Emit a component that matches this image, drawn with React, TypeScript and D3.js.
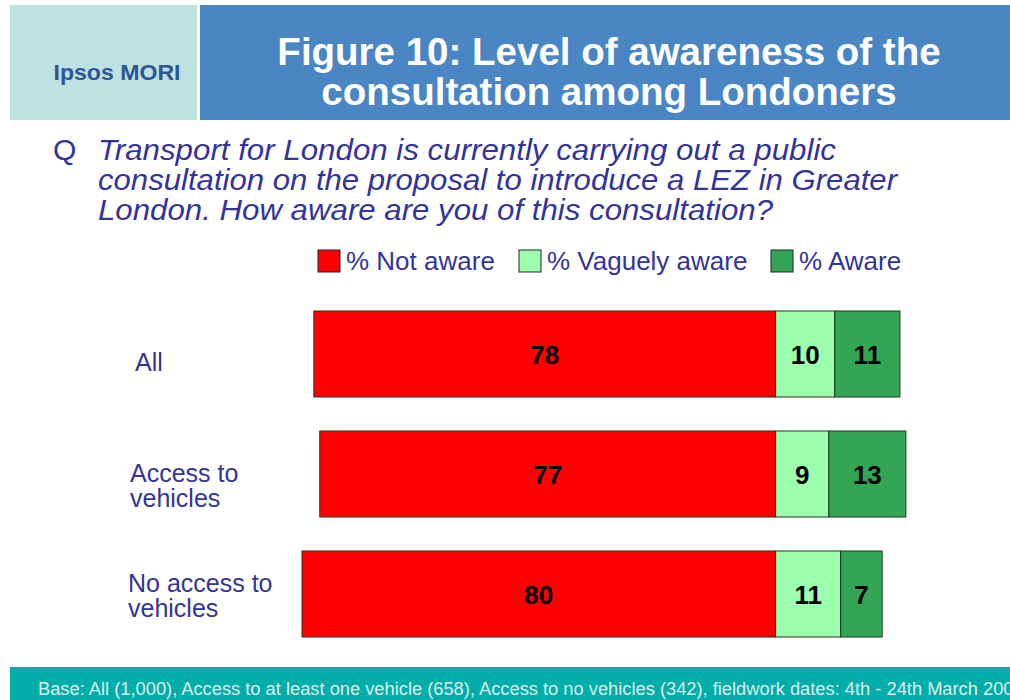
import React, { useEffect, useRef } from "react";
import * as d3 from "d3";

// data
const categories = ["All", "Access to vehicles", "No access to vehicles"];
const categoryLines = [["All"], ["Access to", "vehicles"], ["No access to", "vehicles"]];
const notAware = [78, 77, 80];
const vaguelyAware = [10, 9, 11];
const aware = [11, 13, 7];
const seriesNames = ["% Not aware", "% Vaguely aware", "% Aware"];
const seriesColors = ["#FF0000", "#9CFFAE", "#33A655"];

const W = 1010;
const H = 700;
const textBlue = "#333399";
const font = "Liberation Sans, Arial, sans-serif";

function App() {
  const svgRef = useRef<SVGSVGElement>(null);

  useEffect(() => {
    const svg = d3.select(svgRef.current);
    svg.selectAll("*").remove();

    // header
    svg.append("rect").attr("x", 10).attr("y", 5).attr("width", 187).attr("height", 115).attr("fill", "#BEE1E1");
    svg.append("rect").attr("x", 200).attr("y", 5).attr("width", 810).attr("height", 115).attr("fill", "#4A85C4");
    svg.append("text")
      .attr("x", 117).attr("y", 80)
      .attr("text-anchor", "middle")
      .attr("font-family", font)
      .attr("font-weight", "bold")
      .attr("font-size", 22)
      .attr("fill", "#2E5597")
      .attr("textLength", 127)
      .attr("lengthAdjust", "spacingAndGlyphs")
      .text("Ipsos MORI");
    const title = ["Figure 10: Level of awareness of the", "consultation among Londoners"];
    svg.append("g").selectAll("text").data(title).join("text")
      .attr("x", 609)
      .attr("y", (d, i) => 65 + i * 40)
      .attr("text-anchor", "middle")
      .attr("font-family", font)
      .attr("font-weight", "bold")
      .attr("font-size", 38.5)
      .attr("fill", "#fff")
      .text(d => d);

    // question
    const q = [
      "Transport for London is currently carrying out a public",
      "consultation on the proposal to introduce a LEZ in Greater",
      "London. How aware are you of this consultation?",
    ];
    const qg = svg.append("g")
      .attr("font-family", font)
      .attr("font-size", 30)
      .attr("fill", textBlue);
    qg.append("text").attr("x", 53).attr("y", 160).text("Q");
    qg.selectAll("text.ql").data(q).join("text")
      .attr("class", "ql")
      .attr("x", 98)
      .attr("y", (d, i) => 160 + i * 30)
      .attr("font-style", "italic")
      .attr("textLength", (d, i) => [738, 799, 675][i])
      .attr("lengthAdjust", "spacingAndGlyphs")
      .text(d => d);

    // legend
    const legendX = [318, 519, 771];
    const lg = svg.append("g").selectAll("g").data(seriesNames).join("g")
      .attr("transform", (d, i) => `translate(${legendX[i]},250)`);
    lg.append("rect").attr("width", 22).attr("height", 22)
      .attr("fill", (d, i) => seriesColors[i]).attr("stroke", "#222").attr("stroke-width", 1);
    lg.append("text").attr("x", 28).attr("y", 20)
      .attr("font-family", font)
      .attr("font-size", 26)
      .attr("fill", textBlue)
      .text(d => d);

    // scales
    const x = d3.scaleLinear().domain([-80, 25]).range([302, 302 + 105 * 5.92]);
    const y = d3.scalePoint<string>().domain(categories).range([354, 594]);
    const barH = 86;

    const rows = categories.map((c, i) => {
      const n = notAware[i], v = vaguelyAware[i], a = aware[i];
      return [
        { cat: c, s: 0, x0: -n, x1: 0, val: n },
        { cat: c, s: 1, x0: 0, x1: v, val: v },
        { cat: c, s: 2, x0: v, x1: v + a, val: a },
      ];
    }).flat();

    const bars = svg.append("g");
    bars.selectAll("rect").data(rows).join("rect")
      .attr("x", d => x(d.x0))
      .attr("y", d => (y(d.cat) as number) - barH / 2)
      .attr("width", d => x(d.x1) - x(d.x0))
      .attr("height", barH)
      .attr("fill", d => seriesColors[d.s])
      .attr("stroke", "#1f3a1f")
      .attr("stroke-width", 1);
    bars.selectAll("text").data(rows).join("text")
      .attr("x", d => (x(d.x0) + x(d.x1)) / 2)
      .attr("y", d => (y(d.cat) as number) + 10)
      .attr("text-anchor", "middle")
      .attr("font-family", font)
      .attr("font-weight", "bold")
      .attr("font-size", 26)
      .attr("fill", "#000")
      .text(d => d.val);

    // category labels
    const labelX = [135, 130, 128];
    const labelDy = [17, 8, -2];
    const cg = svg.append("g").selectAll("text").data(categories).join("text")
      .attr("font-family", font)
      .attr("font-size", 25)
      .attr("fill", textBlue);
    cg.each(function (c, i) {
      const lines = categoryLines[i];
      const start = (y(c) as number) + labelDy[i];
      d3.select(this).selectAll("tspan").data(lines).join("tspan")
        .attr("x", labelX[i])
        .attr("y", (d, j) => start + j * 24.5)
        .text(d => d);
    });

    // footer
    svg.append("rect").attr("x", 10).attr("y", 667).attr("width", 1000).attr("height", 33).attr("fill", "#00ADA8");
    svg.append("text")
      .attr("x", 38).attr("y", 695)
      .attr("font-family", font)
      .attr("font-size", 18.3)
      .attr("fill", "#DDEFEE")
      .text("Base: All (1,000), Access to at least one vehicle (658), Access to no vehicles (342), fieldwork dates: 4th - 24th  March 2006");
  }, []);

  return (
    <svg
      ref={svgRef}
      width={W}
      height={H}
      style={{ position: "fixed", left: 0, top: 0, background: "#fff" }}
    />
  );
}

export default App;
